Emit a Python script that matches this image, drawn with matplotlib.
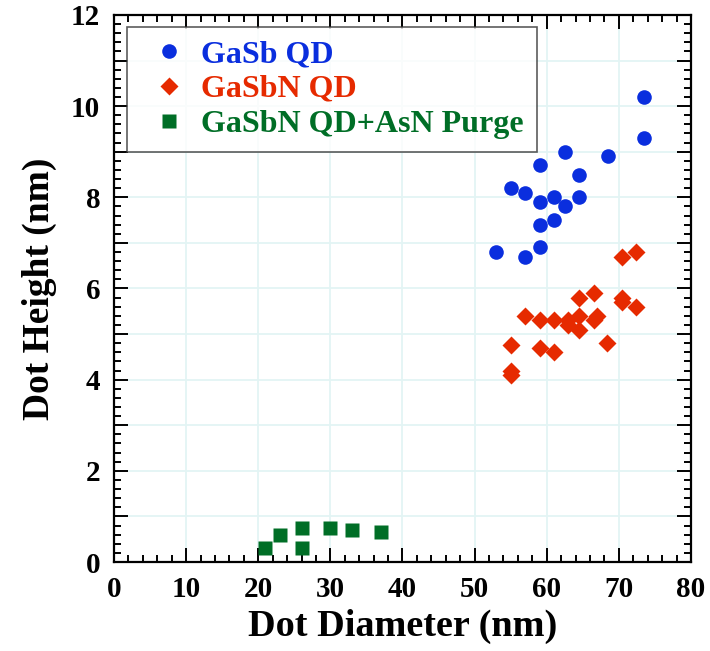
#!/usr/bin/env python3
"""Dot height vs dot diameter for GaSb / GaSbN quantum dots."""

import matplotlib

matplotlib.use("Agg")
import matplotlib.pyplot as plt
from matplotlib.ticker import MultipleLocator, FixedFormatter, FixedLocator

plt.rcParams["font.family"] = ["Liberation Serif", "DejaVu Serif"]
plt.rcParams["font.weight"] = "bold"

# GaSb QD
gasb_d = [73.5, 73.5, 62.5, 68.5, 59.0, 64.5, 55.0, 57.0, 59.0, 61.0, 64.5,
          62.5, 59.0, 61.0, 59.0, 53.0, 57.0]
gasb_h = [10.2, 9.3, 9.0, 8.9, 8.7, 8.5, 8.2, 8.1, 7.9, 8.0, 8.0,
          7.8, 7.4, 7.5, 6.9, 6.8, 6.7]

# GaSbN QD
gasbn_d = [70.4, 72.4, 64.5, 66.5, 70.4, 70.4, 72.4, 57.0, 59.0, 61.0, 63.0,
           63.0, 64.5, 64.5, 66.5, 67.0, 55.0, 59.0, 61.0, 68.4, 55.0, 55.0]
gasbn_h = [6.7, 6.8, 5.8, 5.9, 5.8, 5.7, 5.6, 5.4, 5.3, 5.3, 5.3,
           5.2, 5.4, 5.1, 5.3, 5.4, 4.76, 4.7, 4.6, 4.8, 4.2, 4.1]

# GaSbN QD + AsN purge
purge_d = [21.0, 23.0, 26.0, 26.0, 30.0, 33.0, 37.0]
purge_h = [0.3, 0.6, 0.75, 0.3, 0.75, 0.7, 0.65]

BLUE = "#0a2ede"
RED = "#e62a00"
GREEN = "#006e26"


def main() -> None:
    fig = plt.figure(figsize=(7.1, 6.51), dpi=100)
    ax = fig.add_axes([0.1606, 0.1367, 0.8126, 0.8403])

    ax.plot(gasb_d, gasb_h, "o", color=BLUE, ms=10.5, mec="none", label="GaSb QD")
    ax.plot(gasbn_d, gasbn_h, "D", color=RED, ms=9, mec="none", label="GaSbN QD")
    ax.plot(purge_d, purge_h, "s", color=GREEN, ms=9.5, mec="none",
            label="GaSbN QD+AsN Purge")

    ax.set_xlim(0, 80)
    ax.set_ylim(0, 12)

    ax.xaxis.set_major_locator(MultipleLocator(10))
    ax.xaxis.set_minor_locator(MultipleLocator(2))
    ax.yaxis.set_major_locator(FixedLocator(list(range(13))))
    ax.yaxis.set_major_formatter(
        FixedFormatter([str(v) if v % 2 == 0 else "" for v in range(13)]))
    ax.yaxis.set_minor_locator(MultipleLocator(0.2))

    ax.grid(True, which="major", color="#e3f4f4", linewidth=1.3, zorder=0)
    ax.set_axisbelow(True)

    ax.tick_params(which="both", direction="in", top=True, right=True,
                   width=1.4, labelsize=21, pad=10)
    ax.tick_params(which="major", length=10)
    ax.tick_params(which="minor", length=5)
    for spine in ax.spines.values():
        spine.set_linewidth(1.6)

    ax.set_xlabel("Dot Diameter (nm)", fontsize=27.5, fontweight="bold", labelpad=4)
    ax.set_ylabel("Dot Height (nm)", fontsize=27, fontweight="bold", labelpad=10)

    leg = ax.legend(loc="upper left", bbox_to_anchor=(0.0225, 0.978),
                    borderaxespad=0, fancybox=False,
                    labelspacing=0.17, handletextpad=0.12, borderpad=0.4,
                    handlelength=1.8, prop={"weight": "bold", "size": 23})
    leg.get_frame().set_edgecolor("#333333")
    leg.get_frame().set_linewidth(1.2)
    for text, color in zip(leg.get_texts(), [BLUE, RED, GREEN]):
        text.set_color(color)

    fig.savefig("out.png", dpi=100)
    plt.close(fig)


if __name__ == "__main__":
    main()
